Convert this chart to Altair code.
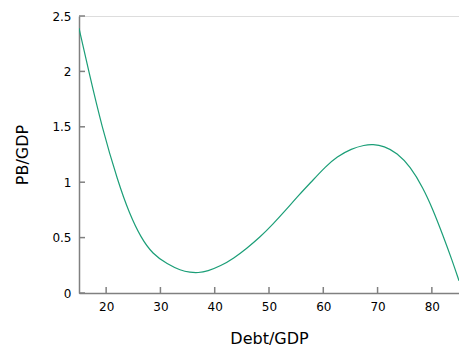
import altair as alt
import pandas as pd

debt = [15, 16.8, 19.2, 22.2, 24.3, 26.4, 28.55, 31.3, 33.7, 35.5, 36.9, 38.7, 41.1, 43.5,
        45.9, 48.3, 50.7, 53.1, 55.5, 58.0, 60.4, 62.5, 65.2, 67.6, 69.1, 71.2, 73.6, 76.0,
        78.4, 80.2, 82.0, 83.8, 85]
pb = [2.39, 2.0, 1.5, 1.0, 0.715, 0.5, 0.352, 0.26, 0.204, 0.186, 0.182, 0.197, 0.244, 0.313,
      0.403, 0.502, 0.62, 0.749, 0.884, 1.014, 1.14, 1.23, 1.303, 1.336, 1.342, 1.327, 1.264, 1.143,
      0.948, 0.752, 0.526, 0.286, 0.11]

x_ticks = [20, 30, 40, 50, 60, 70, 80]
y_ticks = [0, 0.5, 1, 1.5, 2, 2.5]

W, H = 380, 277
line_color = "#1b9e77"
axis_color = "#808080"
font = "DejaVu Sans"

df = pd.DataFrame({"debt": debt, "pb": pb})
xt = pd.DataFrame({"t": x_ticks})
yt = pd.DataFrame({"t": y_ticks})

xscale = alt.Scale(domain=[15, 85], nice=False, zero=False)
yscale = alt.Scale(domain=[0, 2.5], nice=False)

line = alt.Chart(df).mark_line(color=line_color, strokeWidth=1.2, interpolate="basis", clip=True).encode(
    x=alt.X("debt:Q", scale=xscale,
            axis=alt.Axis(values=x_ticks, title="Debt/GDP", grid=False, tickSize=0,
                          domainColor=axis_color, domainWidth=1.5, labelFont=font, labelFontSize=12,
                          labelColor="#000000", labelPadding=8, titleFont=font, titleFontSize=16,
                          titleFontWeight="normal", titleColor="#000000",
                          titleX=W / 2, titleY=50, titleBaseline="alphabetic")),
    y=alt.Y("pb:Q", scale=yscale,
            axis=alt.Axis(values=y_ticks, title="PB/GDP", grid=False, tickSize=0, format="~g",
                          domainColor=axis_color, domainWidth=1.5, labelFont=font, labelFontSize=12,
                          labelColor="#000000", labelPadding=8, titleFont=font, titleFontSize=16,
                          titleFontWeight="normal", titleColor="#000000",
                          titleX=-57, titleY=H / 2, titleAngle=-90, titleBaseline="middle",
                          titleAlign="center")),
)

xtick = alt.Chart(xt).mark_rule(color=axis_color, strokeWidth=1.5).encode(
    x=alt.X("t:Q", scale=xscale),
    y=alt.value(H),
    y2=alt.value(H - 6),
)

ytick = alt.Chart(yt).mark_rule(color=axis_color, strokeWidth=1.5).encode(
    y=alt.Y("t:Q", scale=yscale),
    x=alt.value(0),
    x2=alt.value(6),
)

chart = alt.layer(xtick, ytick, line).properties(
    width=W, height=H,
    autosize=alt.AutoSizeParams(type="none"),
    padding={"left": 71, "top": 8, "right": 0, "bottom": 55},
).configure_view(stroke=None).configure(background="white")

chart.save("out.html", embed_options={"renderer": "svg", "actions": False})
